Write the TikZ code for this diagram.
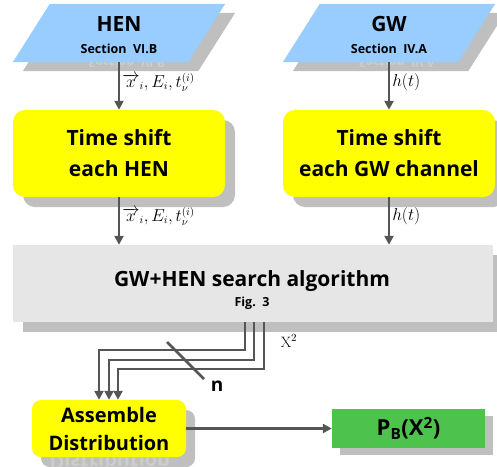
\documentclass[tikz,border=0pt]{standalone}
\usepackage{fontspec}
\newfontfamily\flowfont{Open Sans}
\usepackage{tikz}
\usetikzlibrary{arrows.meta,positioning,calc,shadows}

\definecolor{inblue}{RGB}{153,204,255}
\definecolor{stepyellow}{RGB}{255,255,0}
\definecolor{algogray}{RGB}{230,230,230}
\definecolor{shadegray}{RGB}{191,191,191}
\definecolor{mirrorgray}{RGB}{205,205,205}
\definecolor{wiregray}{RGB}{85,85,85}
\definecolor{outgreen}{RGB}{77,194,77}

% slanted input slab over the frame of node #1, moved by #2
\newcommand{\paraslab}[3]{%
  \fill[#3] ($(#1.south west)+(-18.5,0)+#2$) -- ($(#1.south east)+(-18.5,0)+#2$)
    -- ($(#1.north east)+(18.5,0)+#2$) -- ($(#1.north west)+(18.5,0)+#2$) -- cycle;}

\begin{document}
\begin{tikzpicture}[x=1pt, y=-1pt,
  bigtxt/.style={font=\flowfont\bfseries\fontsize{21}{31}\selectfont, align=center},
  smalltxt/.style={font=\flowfont\bfseries\fontsize{12.5}{15}\selectfont},
  srcframe/.style={minimum width=175pt, minimum height=58pt, inner sep=0pt},
  stepbox/.style={rounded corners=12pt, fill=stepyellow, minimum width=212pt, minimum height=87pt,
    drop shadow={shadow xshift=10pt, shadow yshift=-10pt, fill=shadegray, opacity=1}},
  mirror/.style={smalltxt, text=mirrorgray, yscale=-1, transform shape, anchor=base},
  lbl/.style={font=\fontsize{16}{19}\selectfont, inner sep=2pt},
  arr/.style={-{Triangle[length=9pt,width=9pt]}, line width=2.5pt, draw=wiregray}]
\useasboundingbox (0,0) rectangle (497,466);

% inputs
\node[srcframe] (hen) at (119,33) {};
\node[srcframe] (gw) at (389,33) {};
\paraslab{hen}{(10,9)}{shadegray}
\paraslab{gw}{(10,9)}{shadegray}
\begin{scope}
  \clip (20,62) rectangle (240,72);
  \node[mirror] (henmirror) at (127,58) {Section~~VI.B};
\end{scope}
\begin{scope}
  \clip (290,62) rectangle (497,72);
  \node[mirror] (gwmirror) at (397,58) {Section~~IV.A};
\end{scope}
\paraslab{hen}{(0,0)}{inblue}
\paraslab{gw}{(0,0)}{inblue}
\node[bigtxt, anchor=base] (henname) at (119,31.5) {HEN};
\node[smalltxt, anchor=base] (hensec) at (119,53.3) {Section~~VI.B};
\node[bigtxt, anchor=base] (gwname) at (389,31.5) {GW};
\node[smalltxt, anchor=base] (gwsec) at (389,53.3) {Section~~IV.A};

% time shifts
\node[stepbox, bigtxt] (shifthen) at (119,153.5) {Time shift\\each HEN};
\node[stepbox, bigtxt] (shiftgw) at (389,153.5) {Time shift\\each GW channel};

% search
\node[fill=algogray, minimum width=480pt, minimum height=77pt,
  drop shadow={shadow xshift=10pt, shadow yshift=-10pt, fill=shadegray, opacity=1}] (search) at (253,283.5) {};
\node[bigtxt, anchor=base] (searchname) at (252,286) {GW+HEN search algorithm};
\node[smalltxt, anchor=base] (searchfig) at (252,306) {Fig.~~3};

% outputs
\node[rounded corners=9pt, fill=stepyellow, minimum width=154pt, minimum height=57pt, bigtxt,
  font=\flowfont\bfseries\fontsize{20}{28}\selectfont,
  drop shadow={shadow xshift=9pt, shadow yshift=-10pt, fill=shadegray, opacity=1}] (assemble) at (109,428.5) {Assemble\\Distribution};
\begin{scope}
  \clip (41,457) rectangle (196,467);
  \node[mirror, font=\flowfont\bfseries\fontsize{20}{28}\selectfont] (distmirror) at (110,455) {Distribution};
\end{scope}
\node[fill=outgreen, minimum width=153pt, minimum height=39pt,
  font=\flowfont\bfseries\fontsize{22}{26}\selectfont,
  drop shadow={shadow xshift=8pt, shadow yshift=-7pt, fill=shadegray, opacity=1}] (pb) at (408.5,428.5) {P\textsubscript{B}(X\textsuperscript{2})};

% connectors
\draw[arr] (hen) -- node[lbl, right, pos=0.42] {$\overrightarrow{x}_i,E_i,t_\nu^{(i)}$} (shifthen);
\draw[arr] (gw) -- node[lbl, right, pos=0.42] {$h(t)$} (shiftgw);
\draw[arr] (shifthen.south) -- node[lbl, right, pos=0.4] {$\overrightarrow{x}_i,E_i,t_\nu^{(i)}$} (shifthen.south |- search.north);
\draw[arr] (shiftgw.south) -- node[lbl, right, pos=0.4] {$h(t)$} (shiftgw.south |- search.north);

\draw[arr] ($(search.south)+(-8,0)$) -- ++(0,28) -| ($(assemble.north)+(-10,0)$);
\draw[arr] ($(search.south)+(1,0)$) -- ++(0,38) -| (assemble.north);
\draw[arr] ($(search.south)+(11,0)$) -- ++(0,47) -| ($(assemble.north)+(9,0)$);
\draw[line width=2.5pt, draw=wiregray] (167,342) -- (204,379);
\node[font=\flowfont\bfseries\fontsize{19}{22}\selectfont] (n) at (217,386) {n};
\node[font=\fontsize{15}{17}\selectfont] (chisq) at (289,341) {$\mathrm{X}^2$};

\draw[arr] (assemble) -- (pb);
\end{tikzpicture}
\end{document}
